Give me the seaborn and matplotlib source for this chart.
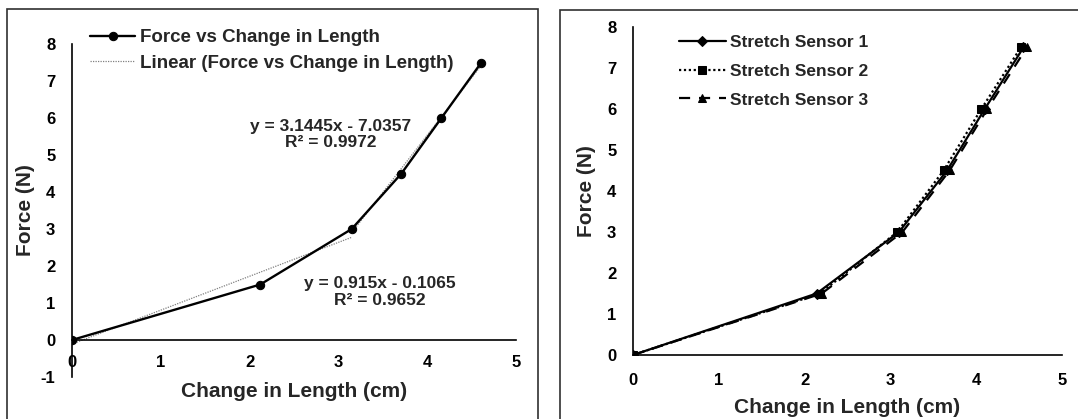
import numpy as np
import pandas as pd
import matplotlib
matplotlib.use("Agg")
import matplotlib.pyplot as plt
from matplotlib.patches import Rectangle
import seaborn as sns

# ---- data ----
len_change = [0.0, 2.12, 3.15, 3.71, 4.16, 4.61]
force = [0.0, 1.5, 3.0, 4.5, 6.0, 7.5]

sensor1_x = [0.0, 2.14, 3.10, 3.66, 4.10, 4.55]
sensor2_x = [0.0, 2.18, 3.08, 3.62, 4.06, 4.52]
sensor3_x = [0.0, 2.20, 3.14, 3.69, 4.13, 4.59]
sensor_force = [0.0, 1.5, 3.0, 4.5, 6.0, 7.5]
sensor_names = ["Stretch Sensor 1", "Stretch Sensor 2", "Stretch Sensor 3"]

x_ticks = [0, 1, 2, 3, 4, 5]
y_ticks_left = [-1, 0, 1, 2, 3, 4, 5, 6, 7, 8]
y_ticks_right = [0, 1, 2, 3, 4, 5, 6, 7, 8]

sns.set_style("white")
plt.rcParams['font.family'] = ['Liberation Sans', 'DejaVu Sans']
plt.rcParams['font.weight'] = 'bold'
plt.rcParams['axes.labelweight'] = 'bold'
plt.rcParams['axes.unicode_minus'] = False

W, H = 1078, 419
fig = plt.figure(figsize=(W / 100, H / 100), dpi=100)


def fx(px):
    return px / W


def fy(py):
    return 1 - py / H


# panel frames
fig.patches.append(Rectangle((fx(7), -0.05), fx(538 - 7), fy(9) + 0.05,
                             transform=fig.transFigure, fill=False,
                             edgecolor='#303030', linewidth=1.2))
fig.patches.append(Rectangle((fx(560), -0.05), 0.6, fy(10) + 0.05,
                             transform=fig.transFigure, fill=False,
                             edgecolor='#303030', linewidth=1.2))

L1, R1, T1, B1 = 72, 516, 44, 377
L2, R2, T2, B2 = 633, 1062, 27, 355
ax1 = fig.add_axes([fx(L1), fy(B1), fx(R1 - L1), (B1 - T1) / H])
ax2 = fig.add_axes([fx(L2), fy(B2), fx(R2 - L2), (B2 - T2) / H])

FS_TICK = 12
FS_LAB = 15

# ---- left panel ----
df1 = pd.DataFrame({"x": len_change, "y": force})
sns.lineplot(data=df1, x="x", y="y", ax=ax1, color='black', linewidth=1.7,
             marker='o', markersize=6, markeredgecolor='black',
             label="Force vs Change in Length", zorder=3)

# linear trendlines fitted to the two regions
xa = np.array(len_change[:3]); ya = np.array(force[:3])
xb = np.array(len_change[2:]); yb = np.array(force[2:])
pa = np.polyfit(xa, ya, 1)
pb = np.polyfit(xb, yb, 1)
ta = pd.DataFrame({"x": [xa[0], xa[-1]], "y": np.polyval(pa, [xa[0], xa[-1]])})
tb = pd.DataFrame({"x": [xb[0], xb[-1]], "y": np.polyval(pb, [xb[0], xb[-1]])})
sns.lineplot(data=ta, x="x", y="y", ax=ax1, color='#808080', linewidth=0.9,
             linestyle=(0, (1, 1)), label="Linear (Force vs Change in Length)", zorder=2)
sns.lineplot(data=tb, x="x", y="y", ax=ax1, color='#808080', linewidth=0.9,
             linestyle=(0, (1, 1)), label="_nolegend_", zorder=2)

ax1.text(2.91, 5.55, "y = 3.1445x - 7.0357\nR² = 0.9972", ha='center', va='center',
         fontsize=12.5, fontweight='bold', linespacing=1.1)
ax1.text(3.47, 1.30, "y = 0.915x - 0.1065\nR² = 0.9652", ha='center', va='center',
         fontsize=12.5, fontweight='bold', linespacing=1.1)

ax1.set_xlim(0, 5)
ax1.set_ylim(-1, 8)
ax1.set_xticks(x_ticks)
ax1.set_yticks(y_ticks_left)
ax1.spines['top'].set_visible(False)
ax1.spines['right'].set_visible(False)
ax1.spines['bottom'].set_position(('data', 0))
for s in ('left', 'bottom'):
    ax1.spines[s].set_color('black')
    ax1.spines[s].set_linewidth(1.2)
ax1.tick_params(axis='x', direction='in', length=5, width=1.2, pad=11,
                labelsize=FS_TICK, colors='black')
ax1.tick_params(axis='y', direction='out', length=5, width=1.2, pad=7,
                labelsize=FS_TICK, colors='black')
ax1.set_xlabel("Change in Length (cm)", fontsize=FS_LAB, fontweight='bold')
ax1.set_ylabel("Force (N)", fontsize=FS_LAB, fontweight='bold')
ax1.xaxis.set_label_coords(0.5, -0.015)
ax1.yaxis.set_label_coords(-0.083, 0.5)
ax1.legend(loc='upper left', bbox_to_anchor=(fx(90), fy(29)),
           bbox_transform=fig.transFigure, frameon=False, borderpad=0,
           fontsize=13.5, handlelength=2.4, handletextpad=0.27,
           labelspacing=0.45, borderaxespad=0)

# ---- right panel ----
rows = []
for name, xs in zip(sensor_names, [sensor1_x, sensor2_x, sensor3_x]):
    for xv, yv in zip(xs, sensor_force):
        rows.append({"sensor": name, "x": xv, "y": yv})
df2 = pd.DataFrame(rows)
styles = {
    "Stretch Sensor 1": dict(linestyle='-', marker='D', markersize=4),
    "Stretch Sensor 2": dict(linestyle=(0, (1, 1.2)), marker='s', markersize=7.5),
    "Stretch Sensor 3": dict(linestyle=(0, (5, 4)), marker='^', markersize=9),
}
for name in sensor_names:
    sub = df2[df2["sensor"] == name]
    sns.lineplot(data=sub, x="x", y="y", ax=ax2, color='black', linewidth=1.6,
                 markeredgecolor='black', label=name, **styles[name])

ax2.set_xlim(0, 5)
ax2.set_ylim(0, 8)
ax2.set_xticks(x_ticks)
ax2.set_yticks(y_ticks_right)
ax2.spines['top'].set_visible(False)
ax2.spines['right'].set_visible(False)
for s in ('left', 'bottom'):
    ax2.spines[s].set_color('black')
    ax2.spines[s].set_linewidth(1.2)
ax2.tick_params(axis='x', direction='in', length=5, width=1.2, pad=13,
                labelsize=FS_TICK, colors='black')
ax2.tick_params(axis='y', direction='out', length=5, width=1.2, pad=7,
                labelsize=FS_TICK, colors='black')
ax2.set_xlabel("Change in Length (cm)", fontsize=FS_LAB, fontweight='bold')
ax2.set_ylabel("Force (N)", fontsize=FS_LAB, fontweight='bold')
ax2.xaxis.set_label_coords(0.5, -0.13)
ax2.yaxis.set_label_coords(-0.086, 0.5)
handles, labels = ax2.get_legend_handles_labels()
for h, ms in zip(handles, [5, 6, 6]):
    h.set_markersize(ms)
ax2.legend(handles, labels, loc='upper left', bbox_to_anchor=(fx(679), fy(35)),
           bbox_transform=fig.transFigure, frameon=False, borderpad=0,
           fontsize=12.5, handlelength=2.7, handletextpad=0.23,
           labelspacing=0.78, borderaxespad=0)

fig.savefig("out.png", dpi=100)
